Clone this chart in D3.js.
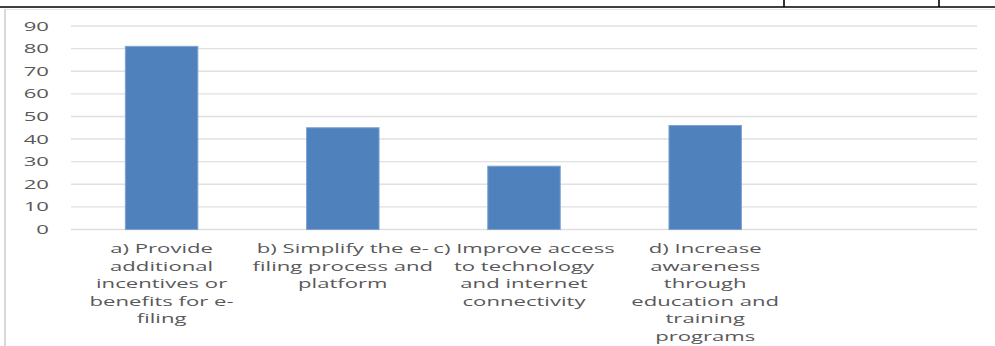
<!DOCTYPE html>
<html>
<head>
<meta charset="utf-8">
<script src="https://cdn.jsdelivr.net/npm/d3@7"></script>
<style>
  html, body { margin: 0; padding: 0; background: #fff; }
  svg { display: block; }
</style>
</head>
<body>
<svg id="chart" width="995" height="346"></svg>
<script>
// Category label lines (as wrapped under each bar)
const categoryLines = [
  ["a) Provide", "additional", "incentives or", "benefits for e-", "filing"],
  ["b) Simplify the e-", "filing process and", "platform"],
  ["c) Improve access", "to technology", "and internet", "connectivity"],
  ["d) Increase", "awareness", "through", "education and", "training", "programs"],
  []
];
const categories = ["a", "b", "c", "d", "e"];
const values = [81, 45, 28, 46, null];
const yTicks = [0, 10, 20, 30, 40, 50, 60, 70, 80, 90];

const svg = d3.select("#chart");
const margin = { left: 71, right: 18, top: 26, bottom: 116.5 };
const W = 995, H = 346;

const x = d3.scaleBand()
  .domain(categories)
  .range([margin.left, W - margin.right])
  .paddingInner(0.6)
  .paddingOuter(0.3);

const y = d3.scaleLinear()
  .domain([0, 90])
  .range([H - margin.bottom, margin.top]);

const textColor = "#595959";
const font = "'Open Sans', sans-serif";
const fontSize = 13;
const stretch = 1.7;

// Page frame lines
svg.append("line").attr("x1", 0).attr("x2", W).attr("y1", 7).attr("y2", 7)
  .attr("stroke", "#000").attr("stroke-width", 1.6);
[784, 939].forEach(px => {
  svg.append("line").attr("x1", px).attr("x2", px).attr("y1", 0).attr("y2", 7)
    .attr("stroke", "#000").attr("stroke-width", 1.6);
});
// Chart area border
svg.append("line").attr("x1", 5).attr("x2", W).attr("y1", 9.5).attr("y2", 9.5)
  .attr("stroke", "#e6e6e6").attr("stroke-width", 1.2);
svg.append("line").attr("x1", 5).attr("x2", 5).attr("y1", 9).attr("y2", H)
  .attr("stroke", "#d9d9d9").attr("stroke-width", 2);

// Gridlines
const gridLeft = margin.left, gridRight = W - margin.right;
svg.append("g").selectAll("line").data(yTicks).join("line")
  .attr("x1", gridLeft).attr("x2", gridRight)
  .attr("y1", d => y(d)).attr("y2", d => y(d))
  .attr("stroke", "#e0e0e0").attr("stroke-width", 1.4);

// Y tick labels
svg.append("g").selectAll("text").data(yTicks).join("text")
  .attr("transform", d => `translate(49,${y(d) + 4.5}) scale(${stretch},1)`)
  .attr("text-anchor", "end")
  .attr("font-family", font).attr("font-size", fontSize)
  .attr("fill", textColor)
  .text(d => d);

// Bars
const data = categories.map((c, i) => ({ c, v: values[i] })).filter(d => d.v != null);
svg.append("g").selectAll("rect").data(data).join("rect")
  .attr("x", d => x(d.c))
  .attr("width", x.bandwidth())
  .attr("y", d => y(d.v))
  .attr("height", d => y(0) - y(d.v))
  .attr("fill", "#4F81BD")
  .attr("stroke", "#7FA3D0")
  .attr("stroke-width", 1);

// Category labels
const lineStep = 17.6;
const firstBaseline = 253;
const labelG = svg.append("g");
categories.forEach((c, i) => {
  const cx = x(c) + x.bandwidth() / 2;
  categoryLines[i].forEach((line, j) => {
    labelG.append("text")
      .attr("transform", `translate(${cx},${firstBaseline + j * lineStep}) scale(${stretch},1)`)
      .attr("text-anchor", "middle")
      .attr("font-family", font).attr("font-size", fontSize)
      .attr("fill", textColor)
      .text(line);
  });
});
</script>
</body>
</html>
